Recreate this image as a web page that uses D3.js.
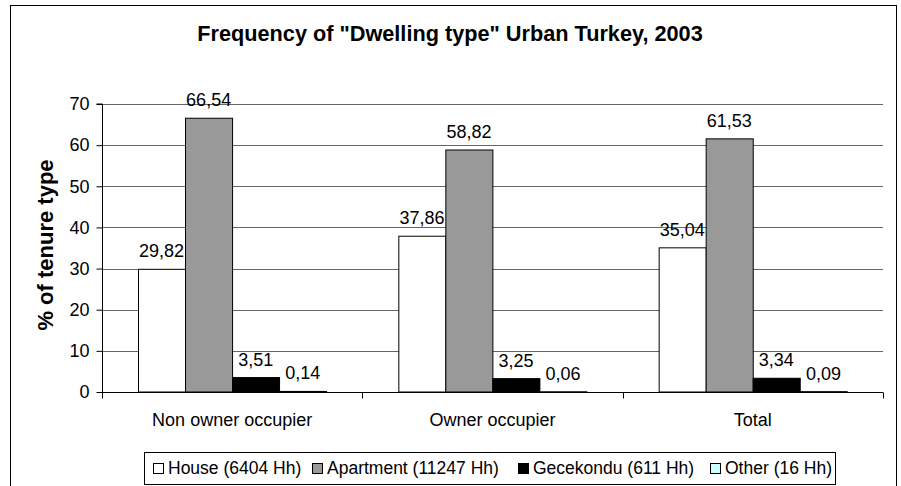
<!DOCTYPE html>
<html>
<head>
<meta charset="utf-8">
<script src="https://cdn.jsdelivr.net/npm/d3@7"></script>
<style>
  body { margin: 0; background: #fff; }
  svg { font-family: "Liberation Sans", Arial, sans-serif; }
</style>
</head>
<body>
<div class="container"></div>
<script>
const categories = ["Non owner occupier", "Owner occupier", "Total"];
const seriesNames = ["House (6404 Hh)", "Apartment (11247 Hh)", "Gecekondu (611 Hh)", "Other (16 Hh)"];
const house = [29.82, 37.86, 35.04];
const apartment = [66.54, 58.82, 61.53];
const gecekondu = [3.51, 3.25, 3.34];
const other = [0.14, 0.06, 0.09];
const yTicks = [0, 10, 20, 30, 40, 50, 60, 70];
const colors = ["#ffffff", "#999999", "#000000", "#ccffff"];

const WIDTH = 901, HEIGHT = 486;
const plotLeft = 102, plotRight = 883, plotTop = 104, plotBottom = 392;

const svg = d3.select(".container").append("svg")
  .attr("width", WIDTH).attr("height", HEIGHT);

// outer frame
svg.append("rect").attr("x", 10.5).attr("y", 5.5).attr("width", 886).attr("height", 500)
  .attr("fill", "none").attr("stroke", "#000");

svg.append("text").attr("x", 450).attr("y", 41).attr("text-anchor", "middle")
  .attr("font-size", 21.7).attr("font-weight", "bold")
  .text('Frequency of "Dwelling type" Urban Turkey, 2003');

const y = d3.scaleLinear().domain([0, 70]).range([plotBottom, plotTop]);
const x0 = d3.scaleBand().domain(categories).range([plotLeft, plotRight]);
const x1 = d3.scaleBand().domain(seriesNames).range([0, x0.bandwidth()]).paddingOuter(0.766);

// gridlines
svg.append("g").selectAll("line").data(yTicks.filter(d => d > 0)).enter().append("line")
  .attr("x1", plotLeft).attr("x2", plotRight)
  .attr("y1", d => Math.round(y(d)) + 0.5).attr("y2", d => Math.round(y(d)) + 0.5)
  .attr("stroke", "#666");

const data = [house, apartment, gecekondu, other];
const groups = svg.append("g").selectAll("g").data(categories).enter().append("g")
  .attr("transform", d => `translate(${x0(d)},0)`);

groups.selectAll("rect").data((c, ci) => seriesNames.map((s, si) => ({ s, si, v: data[si][ci] })))
  .enter().append("rect")
  .attr("x", d => Math.round(x1(d.s)) + 0.5)
  .attr("y", d => y(d.v))
  .attr("width", x1.bandwidth())
  .attr("height", d => plotBottom - y(d.v))
  .attr("fill", d => colors[d.si])
  .attr("stroke", "#000");

groups.selectAll("text").data((c, ci) => seriesNames.map((s, si) => ({ s, si, v: data[si][ci] })))
  .enter().append("text")
  .attr("x", d => x1(d.s) + x1.bandwidth() / 2)
  .attr("y", d => y(d.v) - 12)
  .attr("text-anchor", "middle").attr("font-size", 18)
  .text(d => d.v.toFixed(2).replace(".", ","));

// y axis
const yAxis = svg.append("g").attr("transform", `translate(${plotLeft + 0.5},0)`)
  .call(d3.axisLeft(y).tickValues(yTicks).tickSize(6).tickPadding(7));
yAxis.select(".domain").attr("d", `M-6,${plotTop}H0V${plotBottom}`).attr("stroke", "#000");
yAxis.selectAll("text").attr("font-size", 18).attr("font-family", "Liberation Sans, Arial, sans-serif").attr("fill", "#000");

// x axis
const xAxis = svg.append("g").attr("transform", `translate(0,${plotBottom + 0.5})`);
xAxis.append("line").attr("x1", plotLeft).attr("x2", plotRight).attr("stroke", "#000");
xAxis.selectAll(".tk").data(categories.concat(["end"])).enter().append("line")
  .attr("x1", (d, i) => Math.round(plotLeft + i * x0.bandwidth()) + 0.5)
  .attr("x2", (d, i) => Math.round(plotLeft + i * x0.bandwidth()) + 0.5)
  .attr("y1", 0).attr("y2", 6).attr("stroke", "#000");
xAxis.selectAll("text").data(categories).enter().append("text")
  .attr("x", d => x0(d) + x0.bandwidth() / 2).attr("y", 33)
  .attr("text-anchor", "middle").attr("font-size", 18).text(d => d);

svg.append("text").attr("transform", `translate(53,${(plotTop + plotBottom) / 2 - 3}) rotate(-90)`)
  .attr("text-anchor", "middle").attr("font-size", 22).attr("font-weight", "bold")
  .text("% of tenure type");

// legend
const lg = svg.append("g");
lg.append("rect").attr("x", 144.5).attr("y", 452.5).attr("width", 691).attr("height", 32)
  .attr("fill", "#fff").attr("stroke", "#000");
const legendX = [153, 312, 518, 710];
const items = lg.selectAll("g").data(seriesNames).enter().append("g")
  .attr("transform", (d, i) => `translate(${legendX[i]},468)`);
items.append("rect").attr("x", 0.5).attr("y", -4.5).attr("width", 10).attr("height", 10)
  .attr("fill", (d, i) => colors[i]).attr("stroke", "#000");
items.append("text").attr("x", 15).attr("y", 6).attr("font-size", 17.5).text(d => d);
</script>
</body>
</html>
